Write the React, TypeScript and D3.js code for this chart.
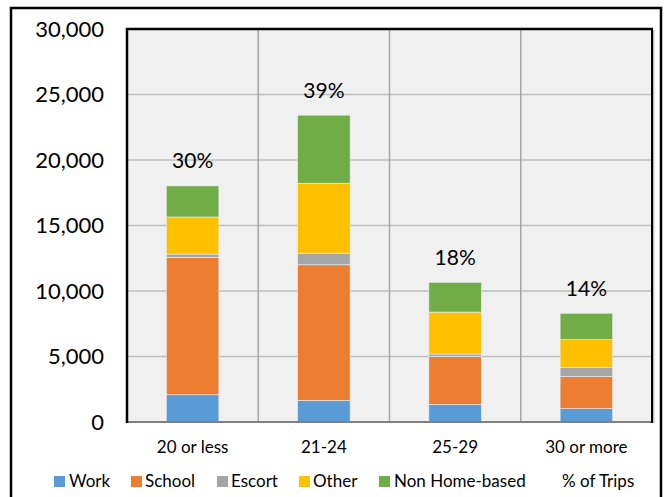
import React from "react";
import * as d3 from "d3";

const categories = ["20 or less", "21-24", "25-29", "30 or more"];
const seriesNames = ["Work", "School", "Escort", "Other", "Non Home-based"];
const work = [2080, 1650, 1350, 1020];
const school = [10490, 10350, 3660, 2470];
const escort = [250, 890, 180, 690];
const other = [2830, 5340, 3200, 2110];
const nonHomeBased = [2370, 5190, 2270, 2010];
const pctTrips = ["30%", "39%", "18%", "14%"];
const yTicks = [0, 5000, 10000, 15000, 20000, 25000, 30000];
const colors = ["#5B9BD5", "#ED7D31", "#A5A5A5", "#FFC000", "#70AD47"];

const FONT = "Lato, 'Liberation Sans', sans-serif";

export default function App() {
  const W = 665, H = 497;
  const left = 127, right = 652, top = 29, bottom = 422;
  const x = d3.scaleBand<string>().domain(categories).range([left, right]).paddingInner(0.6).paddingOuter(0.3);
  const xOuter = d3.scaleBand<string>().domain(categories).range([left, right]);
  const y = d3.scaleLinear().domain([0, 30000]).range([bottom, top]);
  const rows = categories.map((c, i) => ({
    cat: c,
    Work: work[i],
    School: school[i],
    Escort: escort[i],
    Other: other[i],
    "Non Home-based": nonHomeBased[i],
  }));
  const stacked = d3.stack<any>().keys(seriesNames)(rows);
  const fmt = d3.format(",");
  const totals = rows.map((r) => seriesNames.reduce((s, k) => s + (r as any)[k], 0));

  const legendItems = [
    { name: "Work", sx: 54, tx: 69 },
    { name: "School", sx: 131, tx: 145 },
    { name: "Escort", sx: 217, tx: 231 },
    { name: "Other", sx: 299, tx: 313 },
    { name: "Non Home-based", sx: 379, tx: 394 },
  ];

  return (
    <svg width={W} height={H} style={{ position: "absolute", left: 0, top: 0 }} fontFamily={FONT}>
      <rect x={0} y={0} width={W} height={H} fill="#fff" />
      <rect x={11} y={8} width={650} height={H + 20} fill="none" stroke="#000" strokeWidth={2.5} />
      <rect x={left} y={top} width={right - left} height={bottom - top} fill="#F0F0F0" />
      {yTicks.slice(1).map((t) => (
        <line key={t} x1={left} x2={right} y1={y(t)} y2={y(t)} stroke="#BFBFBF" strokeWidth={1.5} />
      ))}
      {categories.slice(1).map((c) => (
        <line key={c} x1={xOuter(c)!} x2={xOuter(c)!} y1={top} y2={bottom} stroke="#A6A6A6" strokeWidth={1.5} />
      ))}
      {stacked.map((s, si) =>
        s.map((d, i) => (
          <rect
            key={si + "-" + i}
            x={x(categories[i])!}
            y={y(d[1])}
            width={x.bandwidth()}
            height={y(d[0]) - y(d[1])}
            fill={colors[si]}
            stroke="#E8EEF4"
            strokeWidth={0.6}
          />
        ))
      )}
      <line x1={left} x2={right} y1={bottom} y2={bottom} stroke="#808080" strokeWidth={2} />
      <line x1={left} x2={left} y1={top - 1} y2={bottom + 1} stroke="#000" strokeWidth={2.5} />
      <line x1={left - 1} x2={right + 1} y1={top} y2={top} stroke="#000" strokeWidth={2.5} />
      <line x1={right} x2={right} y1={top} y2={bottom + 1} stroke="#000" strokeWidth={2} />
      <line x1={right + 1.8} x2={right + 1.8} y1={top + 1} y2={bottom + 1} stroke="#A0A0A0" strokeWidth={1} />
      {yTicks.map((t) => (
        <text key={t} x={104} y={y(t)} dy="0.35em" textAnchor="end" fontSize={22} fill="#000">
          {fmt(t)}
        </text>
      ))}
      {categories.map((c) => (
        <text key={c} x={xOuter(c)! + xOuter.bandwidth() / 2} y={453} textAnchor="middle" fontSize={17} fill="#000">
          {c}
        </text>
      ))}
      {categories.map((c, i) => (
        <text key={c} x={x(c)! + x.bandwidth() / 2} y={y(totals[i]) - 25} dy="0.35em" textAnchor="middle" fontSize={21} fill="#000">
          {pctTrips[i]}
        </text>
      ))}
      {legendItems.map((l, i) => (
        <g key={l.name}>
          <rect x={l.sx} y={476} width={11} height={11} fill={colors[i]} />
          <text x={l.tx} y={481.5} dy="0.35em" fontSize={17} fill="#000">
            {l.name}
          </text>
        </g>
      ))}
      <text x={562} y={481.5} dy="0.35em" fontSize={17} fill="#000">% of Trips</text>
    </svg>
  );
}
